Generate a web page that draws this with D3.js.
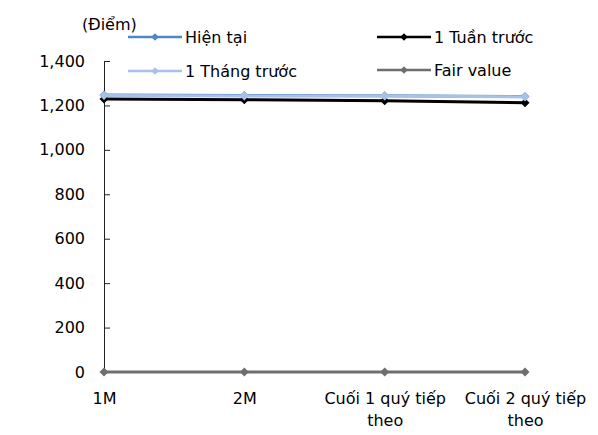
<!DOCTYPE html>
<html>
<head>
<meta charset="utf-8">
<script src="https://cdn.jsdelivr.net/npm/d3@7"></script>
<style>
  body { margin: 0; background: #fff; }
  svg text { font-family: "DejaVu Sans", sans-serif; font-size: 16px; fill: #000; }
</style>
</head>
<body>
<svg id="chart" width="598" height="435"></svg>
<script>
// dữ liệu
const categories = ['1M', '2M', 'Cuối 1 quý tiếp theo', 'Cuối 2 quý tiếp theo'];
const hienTai = [1247, 1245, 1244, 1240];
const motTuanTruoc = [1229, 1226, 1221, 1212];
const motThangTruoc = [1245, 1243, 1243, 1238];
const fairValue = [0, 0, 0, 0];
const yTicks = [0, 200, 400, 600, 800, 1000, 1200, 1400];

const series = [
  { name: 'Hiện tại', values: hienTai, color: '#4F86C6' },
  { name: '1 Tuần trước', values: motTuanTruoc, color: '#000000' },
  { name: '1 Tháng trước', values: motThangTruoc, color: '#A8C1E8' },
  { name: 'Fair value', values: fairValue, color: '#6E6E6E' }
];

const svg = d3.select('#chart');
const mLeft = 104, mRight = 525, mTop = 61, mBottom = 372;

const x = d3.scalePoint().domain(categories).range([mLeft, mRight]).padding(0);
const y = d3.scaleLinear().domain([0, 1400]).range([mBottom, mTop]);

// trục y
const yAxis = svg.append('g')
  .attr('transform', `translate(${mLeft},0)`)
  .call(d3.axisLeft(y).tickValues(yTicks).tickSizeInner(-6).tickSizeOuter(0)
    .tickPadding(19).tickFormat(d3.format(',')));
yAxis.attr('font-size', null).attr('font-family', null);
yAxis.selectAll('path, line').attr('stroke', '#222');

// trục x
const xAxis = svg.append('g')
  .attr('transform', `translate(0,${mBottom})`)
  .call(d3.axisBottom(x).tickSize(0).tickPadding(21));
xAxis.select('.domain').attr('stroke', '#222');
xAxis.attr('font-size', null).attr('font-family', null);
xAxis.selectAll('text').each(function (d) {
  const t = d3.select(this);
  const m = d.match(/^(.*tiếp) (theo)$/);
  if (m) {
    t.text(null);
    t.append('tspan').attr('x', 0).text(m[1]);
    t.append('tspan').attr('x', 0).attr('dy', '1.375em').text(m[2]);
  }
});

const line = d3.line().x((d, i) => x(categories[i])).y(d => y(d));
const marker = d3.symbol().type(d3.symbolDiamond2).size(52);
const legendMarker = d3.symbol().type(d3.symbolDiamond2).size(36);

// vẽ theo thứ tự: fair value, tuần trước, hiện tại, tháng trước
const order = [series[3], series[1], series[0], series[2]];
order.forEach(s => {
  const g = svg.append('g');
  g.append('path')
    .datum(s.values)
    .attr('d', line)
    .attr('fill', 'none')
    .attr('stroke', s.color)
    .attr('stroke-width', 3);
  g.selectAll('path.m')
    .data(s.values)
    .enter()
    .append('path')
    .attr('class', 'm')
    .attr('d', marker)
    .attr('transform', (d, i) => `translate(${x(categories[i])},${y(d)})`)
    .attr('fill', s.color);
});

// chú thích
const legendPos = [
  { s: series[0], x: 128, y: 37 },
  { s: series[1], x: 377, y: 37 },
  { s: series[2], x: 128, y: 71 },
  { s: series[3], x: 377, y: 70 }
];
legendPos.forEach(p => {
  const g = svg.append('g').attr('transform', `translate(${p.x},${p.y})`);
  g.append('line').attr('x1', 0).attr('x2', 54).attr('stroke', p.s.color).attr('stroke-width', 2.5);
  g.append('path').attr('d', legendMarker).attr('transform', 'translate(27,0)').attr('fill', p.s.color);
  g.append('text').attr('x', 57).attr('dy', '0.36em').text(p.s.name);
});

svg.append('text').attr('x', 82).attr('y', 30).text('(Điểm)');
</script>
</body>
</html>
